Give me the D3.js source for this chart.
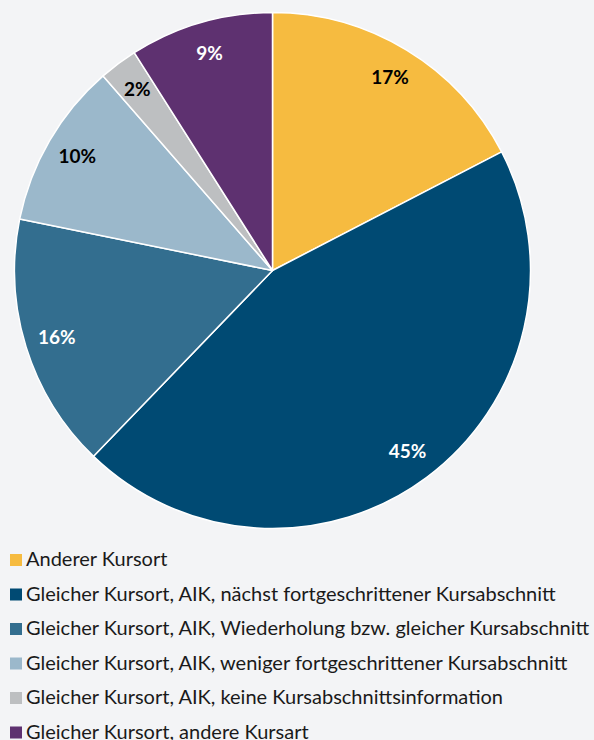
<!DOCTYPE html>
<html>
<head>
<meta charset="utf-8">
<script src="https://cdn.jsdelivr.net/npm/d3@7"></script>
<style>
  html, body { margin: 0; padding: 0; background: #f3f4f6; }
  svg { display: block; }
</style>
</head>
<body>
<div id="chart"></div>
<script>
const categories = [
    "Anderer Kursort",
    "Gleicher Kursort, AIK, nächst fortgeschrittener Kursabschnitt",
    "Gleicher Kursort, AIK, Wiederholung bzw. gleicher Kursabschnitt",
    "Gleicher Kursort, AIK, weniger fortgeschrittener Kursabschnitt",
    "Gleicher Kursort, AIK, keine Kursabschnittsinformation",
    "Gleicher Kursort, andere Kursart"
]
const values = [17.4, 44.8, 16.0, 10.4, 2.4, 9.0]
const colors = ["#f6bb40", "#004a73", "#336e8f", "#9bb8cb", "#bdbfc1", "#5e3170"]
const labelColors = ["#000", "#fff", "#fff", "#000", "#000", "#fff"]

const width = 594, height = 740
const cx = 272.5, cy = 270.5, radius = 258

const data = categories.map((c, i) => ({ name: c, value: values[i], color: colors[i], labelColor: labelColors[i] }))

const svg = d3.select("#chart")
    .append("svg")
    .attr("width", width)
    .attr("height", height)

const pie = d3.pie()
    .value(d => d.value)
    .sort(null)

const arc = d3.arc()
    .innerRadius(0)
    .outerRadius(radius)

const labelArc = d3.arc()
    .innerRadius(226)
    .outerRadius(226)

const g = svg.append("g")
    .attr("transform", `translate(${cx}, ${cy})`)

g.selectAll("path")
    .data(pie(data))
    .enter()
    .append("path")
    .attr("d", arc)
    .attr("fill", d => d.data.color)
    .attr("stroke", "#fff")
    .attr("stroke-width", 1.5)
    .attr("stroke-linejoin", "round")

g.selectAll("text")
    .data(pie(data))
    .enter()
    .append("text")
    .attr("transform", d => `translate(${labelArc.centroid(d)})`)
    .attr("text-anchor", "middle")
    .attr("dy", "0.35em")
    .attr("fill", d => d.data.labelColor)
    .style("font-family", "Lato, 'Noto Sans', sans-serif")
    .style("font-weight", "bold")
    .style("font-size", "19px")
    .text(d => Math.round(d.data.value) + "%")

/* legend */
const legend = svg.append("g")
    .attr("transform", "translate(10, 566)")

const rows = legend.selectAll("g")
    .data(data)
    .enter()
    .append("g")
    .attr("transform", (d, i) => `translate(0, ${i * 34.5})`)

rows.append("rect")
    .attr("x", 0)
    .attr("y", -12)
    .attr("width", 12)
    .attr("height", 12)
    .attr("fill", d => d.color)

rows.append("text")
    .attr("x", 16)
    .attr("y", 0)
    .attr("fill", "#1a1a1a")
    .style("font-family", "Lato, 'Noto Sans', sans-serif")
    .style("font-size", "20px")
    .text(d => d.name)
</script>
</body>
</html>
